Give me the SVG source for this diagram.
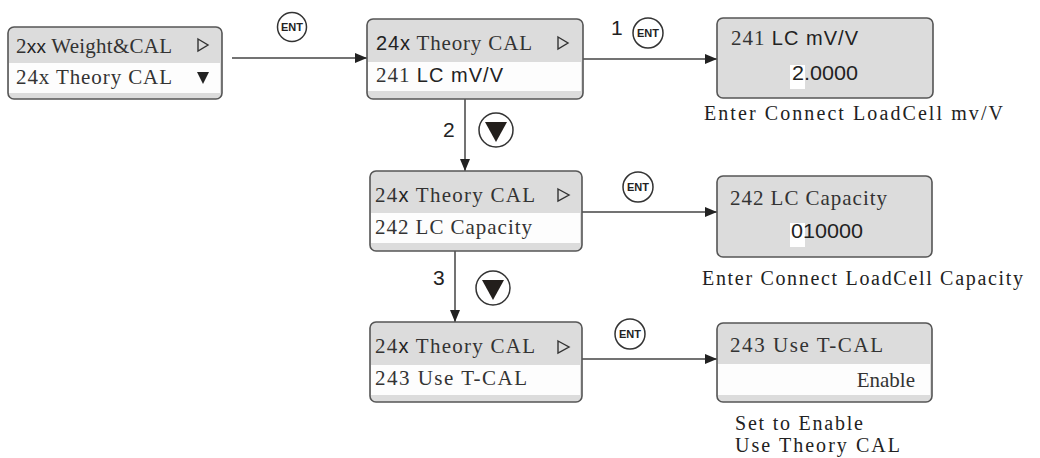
<svg xmlns="http://www.w3.org/2000/svg" width="1040" height="458" viewBox="0 0 1040 458">
<style>
.box{fill:#dcdcdc;stroke:#555;stroke-width:1.6}
.row{fill:#fdfdfd}
.s{font-family:"Liberation Serif",serif;font-size:21px;fill:#333}
.a{font-family:"Liberation Sans",Arial,sans-serif;fill:#222}
.cap{font-family:"Liberation Serif",serif;font-size:20px;fill:#222}
.lbl{font-family:"Liberation Sans",Arial,sans-serif;font-size:21px;fill:#222}
.tri{fill:none;stroke:#333;stroke-width:1.4}
.ent{fill:#fff;stroke:#333;stroke-width:1.5}
.entt{font-family:"Liberation Sans",Arial,sans-serif;font-size:11px;font-weight:bold;fill:#222}
.ln{stroke:#444;stroke-width:1.5;fill:none}
</style>
<defs>
<marker id="arr" markerWidth="12" markerHeight="10" refX="12" refY="5" orient="auto" markerUnits="userSpaceOnUse">
<path d="M0,0 L12,5 L0,10 Z" fill="#222"/>
</marker>
</defs>

<g id="connectors">
<line class="ln" x1="232" y1="58" x2="367" y2="58" marker-end="url(#arr)"/>
<line class="ln" x1="583" y1="59" x2="717" y2="59" marker-end="url(#arr)"/>
<line class="ln" x1="465" y1="99" x2="465" y2="171" marker-end="url(#arr)"/>
<line class="ln" x1="582" y1="212" x2="717" y2="212" marker-end="url(#arr)"/>
<line class="ln" x1="455" y1="251" x2="455" y2="322" marker-end="url(#arr)"/>
<line class="ln" x1="582" y1="359" x2="717" y2="359" marker-end="url(#arr)"/>
<circle class="ent" cx="292" cy="27" r="14.5"/>
<text class="entt" x="292" y="31" text-anchor="middle">ENT</text>
<text class="lbl" x="611" y="35" font-size="23">1</text>
<circle class="ent" cx="648" cy="33" r="15"/>
<text class="entt" x="648" y="37" text-anchor="middle">ENT</text>
<text class="lbl" x="443" y="137">2</text>
<circle class="ent" cx="496" cy="130" r="17"/>
<polygon points="485,122 507,122 496,142" fill="#231f1c"/>
<circle class="ent" cx="638" cy="187" r="15"/>
<text class="entt" x="638" y="191" text-anchor="middle">ENT</text>
<text class="lbl" x="433" y="285" font-size="22">3</text>
<circle class="ent" cx="493" cy="288" r="17"/>
<polygon points="482,280 504,280 493,300" fill="#231f1c"/>
<circle class="ent" cx="630" cy="334" r="15"/>
<text class="entt" x="630" y="338" text-anchor="middle">ENT</text>
</g>

<g id="node-weightcal">
<rect class="box" x="8" y="27" width="214" height="72" rx="6"/>
<rect class="row" x="9" y="63" width="211" height="30"/>
<text class="s" x="16" y="53" textLength="156" lengthAdjust="spacing">2<tspan class="a" font-size="19">xx</tspan> Weight&amp;CAL</text>
<polygon class="tri" points="198,39 208,45 198,51"/>
<text class="s" x="16" y="84" textLength="156" lengthAdjust="spacing">24x Theory CAL</text>
<polygon points="197,72 209,72 203,84" fill="#222"/>
</g>

<g id="node-theory1">
<rect class="box" x="367" y="19" width="216" height="80" rx="6"/>
<rect class="row" x="368" y="62" width="213" height="29"/>
<text class="s" x="376" y="50" textLength="156" lengthAdjust="spacing"><tspan class="a" font-size="20">24x</tspan> Theory CAL</text>
<polygon class="tri" points="558,37 568,43 558,49"/>
<text class="s" x="376" y="82" textLength="127" lengthAdjust="spacing">241 <tspan class="a" font-size="20">LC mV/V</tspan></text>
</g>

<g id="node-lcmvv">
<rect class="box" x="717" y="18" width="216" height="80" rx="6"/>
<text class="s" x="731" y="45" textLength="127" lengthAdjust="spacing">241 <tspan class="a" font-size="20">LC mV/V</tspan></text>
<rect x="790" y="65" width="15" height="24" fill="#fff"/>
<text class="a" x="792" y="80" font-size="21" textLength="66" lengthAdjust="spacingAndGlyphs">2.0000</text>
<text class="cap" x="704" y="120" textLength="299" lengthAdjust="spacing">Enter Connect LoadCell mv/V</text>
</g>

<g id="node-theory2">
<rect class="box" x="370" y="171" width="212" height="80" rx="6"/>
<rect class="row" x="371" y="213" width="209" height="30"/>
<text class="s" x="375" y="202" textLength="160" lengthAdjust="spacing">24<tspan class="a" font-size="20">x</tspan> Theory CAL</text>
<polygon class="tri" points="558,189 569,195 558,201"/>
<text class="s" x="375" y="234" textLength="157" lengthAdjust="spacing">242 LC Capacity</text>
</g>

<g id="node-capacity">
<rect class="box" x="717" y="176" width="215" height="81" rx="6"/>
<text class="s" x="730" y="205" textLength="157" lengthAdjust="spacing">242 LC Capacity</text>
<rect x="790" y="223" width="15" height="24" fill="#fff"/>
<text class="a" x="791" y="238" font-size="21" textLength="72" lengthAdjust="spacingAndGlyphs">010000</text>
<text class="cap" x="702" y="285" textLength="321" lengthAdjust="spacing">Enter Connect LoadCell Capacity</text>
</g>

<g id="node-theory3">
<rect class="box" x="370" y="322" width="212" height="80" rx="6"/>
<rect class="row" x="371" y="365" width="209" height="30"/>
<text class="s" x="375" y="353" textLength="160" lengthAdjust="spacing">24<tspan class="a" font-size="20">x</tspan> Theory CAL</text>
<polygon class="tri" points="558,341 569,347 558,353"/>
<text class="s" x="375" y="385" textLength="152" lengthAdjust="spacing">243 Use T-CAL</text>
</g>

<g id="node-usetcal">
<rect class="box" x="717" y="323" width="215" height="79" rx="6"/>
<rect class="row" x="718" y="364" width="212" height="31"/>
<text class="s" x="730" y="352" textLength="153" lengthAdjust="spacing">243 Use T-CAL</text>
<text class="s" x="915" y="387" text-anchor="end">Enable</text>
<text class="cap" x="735" y="430" textLength="128" lengthAdjust="spacing">Set to Enable</text>
<text class="cap" x="735" y="452" textLength="165" lengthAdjust="spacing">Use Theory CAL</text>
</g>
</svg>
